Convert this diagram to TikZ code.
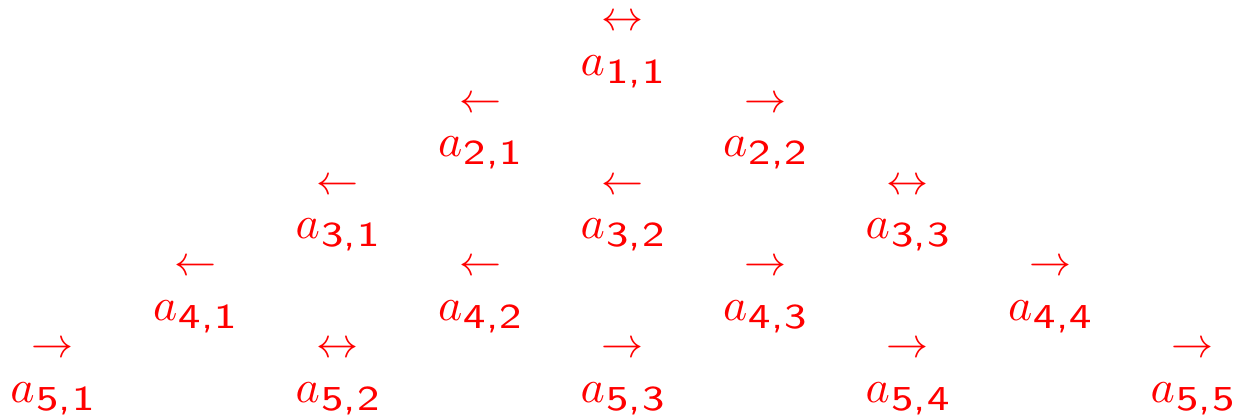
\documentclass[tikz,border=0pt]{standalone}
\usepackage{fontspec}
\newcommand\mylab[2]{\scalebox{0.92}{$a$}\kern0.3pt\raisebox{-1.6pt}{\scalebox{1.2}[1]{\sffamily\fontsize{7}{8}\selectfont #1,\kern0.2pt#2}}}
\begin{document}
\begin{tikzpicture}[x=0.2pt,y=-0.2pt,
  lab/.style={text=red, inner sep=0pt, anchor=base},
  arr/.style={text=red, inner sep=0pt, anchor=base}]
\useasboundingbox (0,0) rectangle (1234,419);
\foreach \i/\j/\d in {1/1/leftrightarrow,
  2/1/leftarrow, 2/2/rightarrow,
  3/1/leftarrow, 3/2/leftarrow, 3/3/leftrightarrow,
  4/1/leftarrow, 4/2/leftarrow, 4/3/rightarrow, 4/4/rightarrow,
  5/1/rightarrow, 5/2/leftrightarrow, 5/3/rightarrow, 5/4/rightarrow, 5/5/rightarrow}{
  \pgfmathsetmacro\xx{52.5+142.5*(5-\i+2*(\j-1))}
  \pgfmathsetmacro\yb{75+81.75*(\i-1)}
  \pgfmathsetmacro\ya{30.5+81.75*(\i-1)}
  \node[lab] (a\i\j) at (\xx,\yb) {\mylab{\i}{\j}};
  \node[arr] (r\i\j) at (\xx,\ya) {\scalebox{0.84}{$\csname\d\endcsname$}};
}
\end{tikzpicture}
\end{document}
